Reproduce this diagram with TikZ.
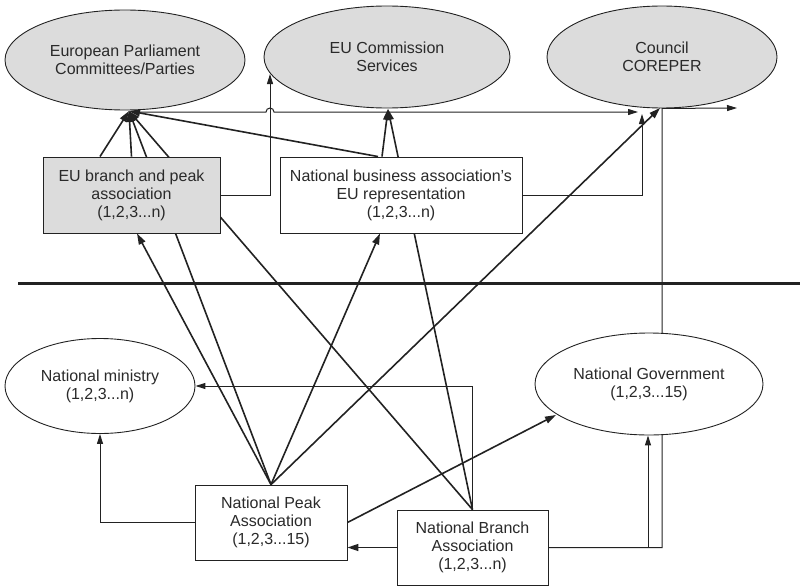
\documentclass[tikz,border=0pt]{standalone}
\usepackage{fontspec}
\setmainfont{Liberation Sans}
\usetikzlibrary{shapes.geometric,arrows.meta,backgrounds}
\definecolor{txt}{HTML}{2A2A2A}
\definecolor{ln}{HTML}{222222}
\definecolor{fillg}{HTML}{DCDCDC}
\begin{document}
\begin{tikzpicture}[x=1pt,y=-1pt,
  every node/.style={font=\fontsize{16}{18}\selectfont, text=txt, align=center},
  ell/.style={ellipse, draw=ln, line width=0.9pt, inner sep=0pt},
  box/.style={rectangle, draw=ln, line width=0.9pt, inner sep=0pt},
  thickarr/.style={line width=1.6pt, draw=ln, -{Triangle[length=11pt,width=7pt]}},
  thinarr/.style={line width=1pt, draw=ln, -{Triangle[length=10pt,width=6pt]}},
  divider/.style={line width=3pt, draw=ln}]
\useasboundingbox (0,0) rectangle (803,586);
% nodes
\node[ell, fill=fillg, minimum width=240pt, minimum height=100pt] (ep) at (125,60) {European Parliament\\Committees/Parties};
\node[ell, fill=fillg, minimum width=246pt, minimum height=102pt] (ec) at (387,57) {EU Commission\\Services};
\node[ell, fill=fillg, minimum width=230pt, minimum height=102pt] (co) at (662,57) {Council\\COREPER};
\node[box, fill=fillg, minimum width=177pt, minimum height=76pt] (eub) at (131.5,195) {EU branch and peak\\association\\(1,2,3...n)};
\node[box, fill=white, minimum width=242pt, minimum height=76pt] (nbr) at (401,195) {National business association’s\\EU representation\\(1,2,3...n)};
\node[ell, fill=white, minimum width=190pt, minimum height=95pt] (nm) at (100,386) {National ministry\\(1,2,3...n)};
\node[ell, fill=white, minimum width=228pt, minimum height=102pt] (ng) at (649,384) {National Government\\(1,2,3...15)};
\node[box, fill=white, minimum width=152pt, minimum height=75pt] (np) at (271,522.5) {National Peak\\Association\\(1,2,3...15)};
\node[box, fill=white, minimum width=151pt, minimum height=75pt] (nb) at (472.5,547.5) {National Branch\\Association\\(1,2,3...n)};
% coordinates
\coordinate (epT) at (129,111);
\coordinate (epS) at (133,112);
\coordinate (ecT) at (388,109);
\coordinate (coT) at (660,108);
\coordinate (coH) at (638,112);
\coordinate (coL) at (642,114);
\coordinate (coR) at (737,108);
\coordinate (ecL) at (270,74);
\coordinate (ngT) at (556,415);
\coordinate (dl) at (18,283);
\coordinate (dr) at (800,283);
\begin{pgfonlayer}{background}
\draw[divider] (dl) -- (dr);
% into European Parliament
\draw[thickarr] ([xshift=-31.5pt]eub.north) -- (epT);
\draw[thickarr] (eub.north) -- (epT);
\draw[thickarr] (np.north) -- (epT);
\draw[thickarr] (nb.north) -- (epT);
\draw[thickarr] ([xshift=-23pt]nbr.north) -- (epT);
% into Commission
\draw[thickarr] ([xshift=-19pt]nbr.north) -- (ecT);
\draw[thickarr] (nb.north) -- (ecT);
\draw[thinarr] (eub.east) -| (ecL);
% into Council
\draw[thinarr] (epS) -- (266,112) arc[start angle=180,end angle=0,radius=4pt] -- (coH);
\draw[thickarr] (np.north) -- (coT);
\draw[thinarr] (nbr.east) -| (coL);
\draw[thinarr] (nb.east) -| (co.south) -- (coR);
% national level
\draw[thickarr] (np.north) -- ([xshift=5.5pt]eub.south);
\draw[thickarr] (np.north) -- ([xshift=-21pt]nbr.south);
\draw[thickarr] (np.east) -- (ngT);
\draw[thickarr] (nb.west) -- (nb.west -| np.east);
\draw[thinarr] (nb.north) |- (nm.east);
\draw[thinarr] (np.west) -| (nm.south);
\draw[thinarr] (nb.east) -| ([xshift=-1pt]ng.south);
\end{pgfonlayer}
\end{tikzpicture}
\end{document}
